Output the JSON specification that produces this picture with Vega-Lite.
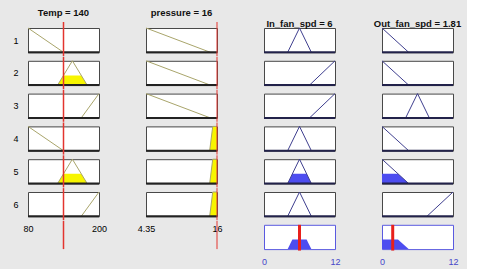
{
"$schema": "https://vega.github.io/schema/vega-lite/v6.json",
"background": "#e8e8e8",
"padding": {"left": 12, "top": 7, "right": 5, "bottom": 5},
"columns": 4,
"spacing": {"row": 7.8, "column": 47},
"bounds": "flush",
"config": {
  "view": {"fill": "white", "stroke": "#484848", "strokeWidth": 1},
  "font": "Liberation Sans",
  "title": {"fontSize": 9.5, "fontWeight": "bold", "color": "#111111", "anchor": "middle", "font": "Liberation Sans"}
},
"datasets": {
  "temp": [
    {"rule": 1, "part": "mf", "x": 80, "mu": 1}, {"rule": 1, "part": "mf", "x": 140, "mu": 0},
    {"rule": 2, "part": "mf", "x": 130, "mu": 0}, {"rule": 2, "part": "mf", "x": 155, "mu": 1}, {"rule": 2, "part": "mf", "x": 180, "mu": 0},
    {"rule": 2, "part": "fill", "x": 130, "mu": 0}, {"rule": 2, "part": "fill", "x": 140, "mu": 0.4}, {"rule": 2, "part": "fill", "x": 170, "mu": 0.4}, {"rule": 2, "part": "fill", "x": 180, "mu": 0},
    {"rule": 3, "part": "mf", "x": 170, "mu": 0}, {"rule": 3, "part": "mf", "x": 200, "mu": 1},
    {"rule": 4, "part": "mf", "x": 80, "mu": 1}, {"rule": 4, "part": "mf", "x": 140, "mu": 0},
    {"rule": 5, "part": "mf", "x": 130, "mu": 0}, {"rule": 5, "part": "mf", "x": 155, "mu": 1}, {"rule": 5, "part": "mf", "x": 180, "mu": 0},
    {"rule": 5, "part": "fill", "x": 130, "mu": 0}, {"rule": 5, "part": "fill", "x": 140, "mu": 0.4}, {"rule": 5, "part": "fill", "x": 170, "mu": 0.4}, {"rule": 5, "part": "fill", "x": 180, "mu": 0},
    {"rule": 6, "part": "mf", "x": 170, "mu": 0}, {"rule": 6, "part": "mf", "x": 200, "mu": 1},
    {"rule": 0, "part": "input", "x": 140, "mu": 0}
  ],
  "pressure": [
    {"rule": 1, "part": "mf", "x": 4.35, "mu": 1}, {"rule": 1, "part": "mf", "x": 14.9, "mu": 0},
    {"rule": 2, "part": "mf", "x": 4.35, "mu": 1}, {"rule": 2, "part": "mf", "x": 14.9, "mu": 0},
    {"rule": 3, "part": "mf", "x": 4.35, "mu": 1}, {"rule": 3, "part": "mf", "x": 14.9, "mu": 0},
    {"rule": 4, "part": "mf", "x": 14.8, "mu": 0}, {"rule": 4, "part": "mf", "x": 15.3, "mu": 1}, {"rule": 4, "part": "mf", "x": 16, "mu": 1},
    {"rule": 4, "part": "fill", "x": 14.8, "mu": 0}, {"rule": 4, "part": "fill", "x": 15.3, "mu": 1}, {"rule": 4, "part": "fill", "x": 16, "mu": 1},
    {"rule": 5, "part": "mf", "x": 14.8, "mu": 0}, {"rule": 5, "part": "mf", "x": 15.3, "mu": 1}, {"rule": 5, "part": "mf", "x": 16, "mu": 1},
    {"rule": 5, "part": "fill", "x": 14.8, "mu": 0}, {"rule": 5, "part": "fill", "x": 15.3, "mu": 1}, {"rule": 5, "part": "fill", "x": 16, "mu": 1},
    {"rule": 6, "part": "mf", "x": 14.8, "mu": 0}, {"rule": 6, "part": "mf", "x": 15.3, "mu": 1}, {"rule": 6, "part": "mf", "x": 16, "mu": 1},
    {"rule": 6, "part": "fill", "x": 14.8, "mu": 0}, {"rule": 6, "part": "fill", "x": 15.3, "mu": 1}, {"rule": 6, "part": "fill", "x": 16, "mu": 1},
    {"rule": 0, "part": "input", "x": 16, "mu": 0}
  ],
  "infan": [
    {"rule": 1, "part": "mf", "x": 4, "mu": 0}, {"rule": 1, "part": "mf", "x": 6, "mu": 1}, {"rule": 1, "part": "mf", "x": 8, "mu": 0},
    {"rule": 2, "part": "mf", "x": 7.7, "mu": 0}, {"rule": 2, "part": "mf", "x": 12, "mu": 1},
    {"rule": 3, "part": "mf", "x": 7.7, "mu": 0}, {"rule": 3, "part": "mf", "x": 12, "mu": 1},
    {"rule": 4, "part": "mf", "x": 4, "mu": 0}, {"rule": 4, "part": "mf", "x": 6, "mu": 1}, {"rule": 4, "part": "mf", "x": 8, "mu": 0},
    {"rule": 5, "part": "mf", "x": 4, "mu": 0}, {"rule": 5, "part": "mf", "x": 6, "mu": 1}, {"rule": 5, "part": "mf", "x": 8, "mu": 0},
    {"rule": 5, "part": "fill", "x": 4, "mu": 0}, {"rule": 5, "part": "fill", "x": 4.8, "mu": 0.4}, {"rule": 5, "part": "fill", "x": 7.2, "mu": 0.4}, {"rule": 5, "part": "fill", "x": 8, "mu": 0},
    {"rule": 6, "part": "mf", "x": 4, "mu": 0}, {"rule": 6, "part": "mf", "x": 6, "mu": 1}, {"rule": 6, "part": "mf", "x": 8, "mu": 0},
    {"rule": 7, "part": "fill", "x": 4, "mu": 0}, {"rule": 7, "part": "fill", "x": 4.8, "mu": 0.4}, {"rule": 7, "part": "fill", "x": 7.2, "mu": 0.4}, {"rule": 7, "part": "fill", "x": 8, "mu": 0},
    {"rule": 0, "part": "output", "x": 6, "mu": 0}
  ],
  "outfan": [
    {"rule": 1, "part": "mf", "x": 0, "mu": 1}, {"rule": 1, "part": "mf", "x": 4.5, "mu": 0},
    {"rule": 2, "part": "mf", "x": 0, "mu": 1}, {"rule": 2, "part": "mf", "x": 4.5, "mu": 0},
    {"rule": 3, "part": "mf", "x": 4, "mu": 0}, {"rule": 3, "part": "mf", "x": 6, "mu": 1}, {"rule": 3, "part": "mf", "x": 8, "mu": 0},
    {"rule": 4, "part": "mf", "x": 0, "mu": 1}, {"rule": 4, "part": "mf", "x": 4.5, "mu": 0},
    {"rule": 5, "part": "mf", "x": 0, "mu": 1}, {"rule": 5, "part": "mf", "x": 4.5, "mu": 0},
    {"rule": 5, "part": "fill", "x": 0, "mu": 0.4}, {"rule": 5, "part": "fill", "x": 2.7, "mu": 0.4}, {"rule": 5, "part": "fill", "x": 4.5, "mu": 0},
    {"rule": 6, "part": "mf", "x": 7.6, "mu": 0}, {"rule": 6, "part": "mf", "x": 12, "mu": 1},
    {"rule": 7, "part": "fill", "x": 0, "mu": 0.4}, {"rule": 7, "part": "fill", "x": 2.7, "mu": 0.4}, {"rule": 7, "part": "fill", "x": 4.5, "mu": 0},
    {"rule": 0, "part": "output", "x": 1.81, "mu": 0}
  ]
},
"concat": [
{"width": 71, "height": 24.3, "data": {"name": "temp"}, "title": {"text": "Temp = 140", "offset": 4},
 "resolve": {"axis": {"x": "independent", "y": "independent"}},
 "layer": [
  {"transform": [{"filter": "datum.rule == 1 && datum.part == 'mf'"}], "mark": {"type": "line", "color": "#a9a56b", "strokeWidth": 1},
   "encoding": {"x": {"field": "x", "type": "quantitative", "scale": {"domain": [80, 200], "nice": false, "zero": false}, "axis": null},
     "y": {"field": "mu", "type": "quantitative", "scale": {"domain": [0, 1]}, "axis": {"title": "1", "titleAngle": 0, "titleAlign": "right", "titleBaseline": "middle", "titlePadding": 10, "titleFontSize": 9, "titleFontWeight": "normal", "titleColor": "#000000", "labels": false, "ticks": false, "domain": false, "grid": false}}}},
  {"transform": [{"filter": "datum.part == 'input'"}], "mark": {"type": "rule", "color": "#222222", "strokeWidth": 2},
   "encoding": {"y": {"datum": 0, "type": "quantitative", "scale": {"domain": [0, 1]}, "axis": null}}},
  {"transform": [{"filter": "datum.part == 'input'"}], "mark": {"type": "rule", "color": "#e3342f", "strokeWidth": 1.5},
   "encoding": {"x": {"field": "x", "type": "quantitative", "scale": {"domain": [80, 200], "nice": false, "zero": false}, "axis": null},
     "y": {"datum": 1.247, "type": "quantitative", "scale": {"domain": [0, 1]}, "axis": null}, "y2": {"datum": -0.16}}}
 ]},
{"width": 71, "height": 24.3, "data": {"name": "pressure"}, "title": {"text": "pressure = 16", "offset": 4},
 "layer": [
  {"transform": [{"filter": "datum.rule == 1 && datum.part == 'mf'"}], "mark": {"type": "line", "color": "#a9a56b", "strokeWidth": 1},
   "encoding": {"x": {"field": "x", "type": "quantitative", "scale": {"domain": [4.35, 16], "nice": false, "zero": false}, "axis": null},
     "y": {"field": "mu", "type": "quantitative", "scale": {"domain": [0, 1]}, "axis": null}}},
  {"transform": [{"filter": "datum.part == 'input'"}], "mark": {"type": "rule", "color": "#222222", "strokeWidth": 2},
   "encoding": {"y": {"datum": 0, "type": "quantitative", "scale": {"domain": [0, 1]}, "axis": null}}},
  {"transform": [{"filter": "datum.part == 'input'"}], "mark": {"type": "rule", "color": "#e3342f", "strokeWidth": 1},
   "encoding": {"x": {"field": "x", "type": "quantitative", "scale": {"domain": [4.35, 16], "nice": false, "zero": false}, "axis": null},
     "y": {"datum": 1.247, "type": "quantitative", "scale": {"domain": [0, 1]}, "axis": null}, "y2": {"datum": -0.16}}}
 ]},
{"width": 71, "height": 24.3, "data": {"name": "infan"}, "title": {"text": "In_fan_spd = 6", "offset": -2},
 "layer": [
  {"transform": [{"filter": "datum.rule == 1 && datum.part == 'mf'"}], "mark": {"type": "line", "color": "#3f3f8f", "strokeWidth": 1},
   "encoding": {"x": {"field": "x", "type": "quantitative", "scale": {"domain": [0, 12], "nice": false, "zero": false}, "axis": null},
     "y": {"field": "mu", "type": "quantitative", "scale": {"domain": [0, 1]}, "axis": null}}},
  {"transform": [{"filter": "datum.part == 'output'"}], "mark": {"type": "rule", "color": "#22224a", "strokeWidth": 2},
   "encoding": {"y": {"datum": 0, "type": "quantitative", "scale": {"domain": [0, 1]}, "axis": null}}}
 ]},
{"width": 71, "height": 24.3, "data": {"name": "outfan"}, "title": {"text": "Out_fan_spd = 1.81", "offset": -2},
 "layer": [
  {"transform": [{"filter": "datum.rule == 1 && datum.part == 'mf'"}], "mark": {"type": "line", "color": "#3f3f8f", "strokeWidth": 1},
   "encoding": {"x": {"field": "x", "type": "quantitative", "scale": {"domain": [0, 12], "nice": false, "zero": false}, "axis": null},
     "y": {"field": "mu", "type": "quantitative", "scale": {"domain": [0, 1]}, "axis": null}}},
  {"transform": [{"filter": "datum.part == 'output'"}], "mark": {"type": "rule", "color": "#22224a", "strokeWidth": 2},
   "encoding": {"y": {"datum": 0, "type": "quantitative", "scale": {"domain": [0, 1]}, "axis": null}}}
 ]},

{"width": 71, "height": 24.3, "data": {"name": "temp"},
 "resolve": {"axis": {"x": "independent", "y": "independent"}},
 "layer": [
  {"transform": [{"filter": "datum.rule == 2 && datum.part == 'fill'"}], "mark": {"type": "area", "color": "#f7f500", "opacity": 1},
   "encoding": {"x": {"field": "x", "type": "quantitative", "scale": {"domain": [80, 200], "nice": false, "zero": false}, "axis": null},
     "y": {"field": "mu", "type": "quantitative", "scale": {"domain": [0, 1]}, "axis": null}}},
  {"transform": [{"filter": "datum.rule == 2 && datum.part == 'mf'"}], "mark": {"type": "line", "color": "#a9a56b", "strokeWidth": 1},
   "encoding": {"x": {"field": "x", "type": "quantitative", "scale": {"domain": [80, 200], "nice": false, "zero": false}, "axis": null},
     "y": {"field": "mu", "type": "quantitative", "scale": {"domain": [0, 1]}, "axis": {"title": "2", "titleAngle": 0, "titleAlign": "right", "titleBaseline": "middle", "titlePadding": 10, "titleFontSize": 9, "titleFontWeight": "normal", "titleColor": "#000000", "labels": false, "ticks": false, "domain": false, "grid": false}}}},
  {"transform": [{"filter": "datum.part == 'input'"}], "mark": {"type": "rule", "color": "#222222", "strokeWidth": 2},
   "encoding": {"y": {"datum": 0, "type": "quantitative", "scale": {"domain": [0, 1]}, "axis": null}}},
  {"transform": [{"filter": "datum.part == 'input'"}], "mark": {"type": "rule", "color": "#e3342f", "strokeWidth": 1.5},
   "encoding": {"x": {"field": "x", "type": "quantitative", "scale": {"domain": [80, 200], "nice": false, "zero": false}, "axis": null},
     "y": {"datum": 1.16, "type": "quantitative", "scale": {"domain": [0, 1]}, "axis": null}, "y2": {"datum": -0.16}}}
 ]},
{"width": 71, "height": 24.3, "data": {"name": "pressure"},
 "layer": [
  {"transform": [{"filter": "datum.rule == 2 && datum.part == 'mf'"}], "mark": {"type": "line", "color": "#a9a56b", "strokeWidth": 1},
   "encoding": {"x": {"field": "x", "type": "quantitative", "scale": {"domain": [4.35, 16], "nice": false, "zero": false}, "axis": null},
     "y": {"field": "mu", "type": "quantitative", "scale": {"domain": [0, 1]}, "axis": null}}},
  {"transform": [{"filter": "datum.part == 'input'"}], "mark": {"type": "rule", "color": "#222222", "strokeWidth": 2},
   "encoding": {"y": {"datum": 0, "type": "quantitative", "scale": {"domain": [0, 1]}, "axis": null}}},
  {"transform": [{"filter": "datum.part == 'input'"}], "mark": {"type": "rule", "color": "#e3342f", "strokeWidth": 1},
   "encoding": {"x": {"field": "x", "type": "quantitative", "scale": {"domain": [4.35, 16], "nice": false, "zero": false}, "axis": null},
     "y": {"datum": 1.16, "type": "quantitative", "scale": {"domain": [0, 1]}, "axis": null}, "y2": {"datum": -0.16}}}
 ]},
{"width": 71, "height": 24.3, "data": {"name": "infan"},
 "layer": [
  {"transform": [{"filter": "datum.rule == 2 && datum.part == 'mf'"}], "mark": {"type": "line", "color": "#3f3f8f", "strokeWidth": 1},
   "encoding": {"x": {"field": "x", "type": "quantitative", "scale": {"domain": [0, 12], "nice": false, "zero": false}, "axis": null},
     "y": {"field": "mu", "type": "quantitative", "scale": {"domain": [0, 1]}, "axis": null}}},
  {"transform": [{"filter": "datum.part == 'output'"}], "mark": {"type": "rule", "color": "#22224a", "strokeWidth": 2},
   "encoding": {"y": {"datum": 0, "type": "quantitative", "scale": {"domain": [0, 1]}, "axis": null}}}
 ]},
{"width": 71, "height": 24.3, "data": {"name": "outfan"},
 "layer": [
  {"transform": [{"filter": "datum.rule == 2 && datum.part == 'mf'"}], "mark": {"type": "line", "color": "#3f3f8f", "strokeWidth": 1},
   "encoding": {"x": {"field": "x", "type": "quantitative", "scale": {"domain": [0, 12], "nice": false, "zero": false}, "axis": null},
     "y": {"field": "mu", "type": "quantitative", "scale": {"domain": [0, 1]}, "axis": null}}},
  {"transform": [{"filter": "datum.part == 'output'"}], "mark": {"type": "rule", "color": "#22224a", "strokeWidth": 2},
   "encoding": {"y": {"datum": 0, "type": "quantitative", "scale": {"domain": [0, 1]}, "axis": null}}}
 ]},

{"width": 71, "height": 24.3, "data": {"name": "temp"},
 "resolve": {"axis": {"x": "independent", "y": "independent"}},
 "layer": [
  {"transform": [{"filter": "datum.rule == 3 && datum.part == 'mf'"}], "mark": {"type": "line", "color": "#a9a56b", "strokeWidth": 1},
   "encoding": {"x": {"field": "x", "type": "quantitative", "scale": {"domain": [80, 200], "nice": false, "zero": false}, "axis": null},
     "y": {"field": "mu", "type": "quantitative", "scale": {"domain": [0, 1]}, "axis": {"title": "3", "titleAngle": 0, "titleAlign": "right", "titleBaseline": "middle", "titlePadding": 10, "titleFontSize": 9, "titleFontWeight": "normal", "titleColor": "#000000", "labels": false, "ticks": false, "domain": false, "grid": false}}}},
  {"transform": [{"filter": "datum.part == 'input'"}], "mark": {"type": "rule", "color": "#222222", "strokeWidth": 2},
   "encoding": {"y": {"datum": 0, "type": "quantitative", "scale": {"domain": [0, 1]}, "axis": null}}},
  {"transform": [{"filter": "datum.part == 'input'"}], "mark": {"type": "rule", "color": "#e3342f", "strokeWidth": 1.5},
   "encoding": {"x": {"field": "x", "type": "quantitative", "scale": {"domain": [80, 200], "nice": false, "zero": false}, "axis": null},
     "y": {"datum": 1.16, "type": "quantitative", "scale": {"domain": [0, 1]}, "axis": null}, "y2": {"datum": -0.16}}}
 ]},
{"width": 71, "height": 24.3, "data": {"name": "pressure"},
 "layer": [
  {"transform": [{"filter": "datum.rule == 3 && datum.part == 'mf'"}], "mark": {"type": "line", "color": "#a9a56b", "strokeWidth": 1},
   "encoding": {"x": {"field": "x", "type": "quantitative", "scale": {"domain": [4.35, 16], "nice": false, "zero": false}, "axis": null},
     "y": {"field": "mu", "type": "quantitative", "scale": {"domain": [0, 1]}, "axis": null}}},
  {"transform": [{"filter": "datum.part == 'input'"}], "mark": {"type": "rule", "color": "#222222", "strokeWidth": 2},
   "encoding": {"y": {"datum": 0, "type": "quantitative", "scale": {"domain": [0, 1]}, "axis": null}}},
  {"transform": [{"filter": "datum.part == 'input'"}], "mark": {"type": "rule", "color": "#e3342f", "strokeWidth": 1},
   "encoding": {"x": {"field": "x", "type": "quantitative", "scale": {"domain": [4.35, 16], "nice": false, "zero": false}, "axis": null},
     "y": {"datum": 1.16, "type": "quantitative", "scale": {"domain": [0, 1]}, "axis": null}, "y2": {"datum": -0.16}}}
 ]},
{"width": 71, "height": 24.3, "data": {"name": "infan"},
 "layer": [
  {"transform": [{"filter": "datum.rule == 3 && datum.part == 'mf'"}], "mark": {"type": "line", "color": "#3f3f8f", "strokeWidth": 1},
   "encoding": {"x": {"field": "x", "type": "quantitative", "scale": {"domain": [0, 12], "nice": false, "zero": false}, "axis": null},
     "y": {"field": "mu", "type": "quantitative", "scale": {"domain": [0, 1]}, "axis": null}}},
  {"transform": [{"filter": "datum.part == 'output'"}], "mark": {"type": "rule", "color": "#22224a", "strokeWidth": 2},
   "encoding": {"y": {"datum": 0, "type": "quantitative", "scale": {"domain": [0, 1]}, "axis": null}}}
 ]},
{"width": 71, "height": 24.3, "data": {"name": "outfan"},
 "layer": [
  {"transform": [{"filter": "datum.rule == 3 && datum.part == 'mf'"}], "mark": {"type": "line", "color": "#3f3f8f", "strokeWidth": 1},
   "encoding": {"x": {"field": "x", "type": "quantitative", "scale": {"domain": [0, 12], "nice": false, "zero": false}, "axis": null},
     "y": {"field": "mu", "type": "quantitative", "scale": {"domain": [0, 1]}, "axis": null}}},
  {"transform": [{"filter": "datum.part == 'output'"}], "mark": {"type": "rule", "color": "#22224a", "strokeWidth": 2},
   "encoding": {"y": {"datum": 0, "type": "quantitative", "scale": {"domain": [0, 1]}, "axis": null}}}
 ]},

{"width": 71, "height": 24.3, "data": {"name": "temp"},
 "resolve": {"axis": {"x": "independent", "y": "independent"}},
 "layer": [
  {"transform": [{"filter": "datum.rule == 4 && datum.part == 'mf'"}], "mark": {"type": "line", "color": "#a9a56b", "strokeWidth": 1},
   "encoding": {"x": {"field": "x", "type": "quantitative", "scale": {"domain": [80, 200], "nice": false, "zero": false}, "axis": null},
     "y": {"field": "mu", "type": "quantitative", "scale": {"domain": [0, 1]}, "axis": {"title": "4", "titleAngle": 0, "titleAlign": "right", "titleBaseline": "middle", "titlePadding": 10, "titleFontSize": 9, "titleFontWeight": "normal", "titleColor": "#000000", "labels": false, "ticks": false, "domain": false, "grid": false}}}},
  {"transform": [{"filter": "datum.part == 'input'"}], "mark": {"type": "rule", "color": "#222222", "strokeWidth": 2},
   "encoding": {"y": {"datum": 0, "type": "quantitative", "scale": {"domain": [0, 1]}, "axis": null}}},
  {"transform": [{"filter": "datum.part == 'input'"}], "mark": {"type": "rule", "color": "#e3342f", "strokeWidth": 1.5},
   "encoding": {"x": {"field": "x", "type": "quantitative", "scale": {"domain": [80, 200], "nice": false, "zero": false}, "axis": null},
     "y": {"datum": 1.16, "type": "quantitative", "scale": {"domain": [0, 1]}, "axis": null}, "y2": {"datum": -0.16}}}
 ]},
{"width": 71, "height": 24.3, "data": {"name": "pressure"},
 "layer": [
  {"transform": [{"filter": "datum.rule == 4 && datum.part == 'fill'"}], "mark": {"type": "area", "color": "#f7f500", "opacity": 1},
   "encoding": {"x": {"field": "x", "type": "quantitative", "scale": {"domain": [4.35, 16], "nice": false, "zero": false}, "axis": null},
     "y": {"field": "mu", "type": "quantitative", "scale": {"domain": [0, 1]}, "axis": null}}},
  {"transform": [{"filter": "datum.rule == 4 && datum.part == 'mf'"}], "mark": {"type": "line", "color": "#a9a56b", "strokeWidth": 1},
   "encoding": {"x": {"field": "x", "type": "quantitative", "scale": {"domain": [4.35, 16], "nice": false, "zero": false}, "axis": null},
     "y": {"field": "mu", "type": "quantitative", "scale": {"domain": [0, 1]}, "axis": null}}},
  {"transform": [{"filter": "datum.part == 'input'"}], "mark": {"type": "rule", "color": "#222222", "strokeWidth": 2},
   "encoding": {"y": {"datum": 0, "type": "quantitative", "scale": {"domain": [0, 1]}, "axis": null}}},
  {"transform": [{"filter": "datum.part == 'input'"}], "mark": {"type": "rule", "color": "#e3342f", "strokeWidth": 1},
   "encoding": {"x": {"field": "x", "type": "quantitative", "scale": {"domain": [4.35, 16], "nice": false, "zero": false}, "axis": null},
     "y": {"datum": 1.16, "type": "quantitative", "scale": {"domain": [0, 1]}, "axis": null}, "y2": {"datum": -0.16}}}
 ]},
{"width": 71, "height": 24.3, "data": {"name": "infan"},
 "layer": [
  {"transform": [{"filter": "datum.rule == 4 && datum.part == 'mf'"}], "mark": {"type": "line", "color": "#3f3f8f", "strokeWidth": 1},
   "encoding": {"x": {"field": "x", "type": "quantitative", "scale": {"domain": [0, 12], "nice": false, "zero": false}, "axis": null},
     "y": {"field": "mu", "type": "quantitative", "scale": {"domain": [0, 1]}, "axis": null}}},
  {"transform": [{"filter": "datum.part == 'output'"}], "mark": {"type": "rule", "color": "#22224a", "strokeWidth": 2},
   "encoding": {"y": {"datum": 0, "type": "quantitative", "scale": {"domain": [0, 1]}, "axis": null}}}
 ]},
{"width": 71, "height": 24.3, "data": {"name": "outfan"},
 "layer": [
  {"transform": [{"filter": "datum.rule == 4 && datum.part == 'mf'"}], "mark": {"type": "line", "color": "#3f3f8f", "strokeWidth": 1},
   "encoding": {"x": {"field": "x", "type": "quantitative", "scale": {"domain": [0, 12], "nice": false, "zero": false}, "axis": null},
     "y": {"field": "mu", "type": "quantitative", "scale": {"domain": [0, 1]}, "axis": null}}},
  {"transform": [{"filter": "datum.part == 'output'"}], "mark": {"type": "rule", "color": "#22224a", "strokeWidth": 2},
   "encoding": {"y": {"datum": 0, "type": "quantitative", "scale": {"domain": [0, 1]}, "axis": null}}}
 ]},

{"width": 71, "height": 24.3, "data": {"name": "temp"},
 "resolve": {"axis": {"x": "independent", "y": "independent"}},
 "layer": [
  {"transform": [{"filter": "datum.rule == 5 && datum.part == 'fill'"}], "mark": {"type": "area", "color": "#f7f500", "opacity": 1},
   "encoding": {"x": {"field": "x", "type": "quantitative", "scale": {"domain": [80, 200], "nice": false, "zero": false}, "axis": null},
     "y": {"field": "mu", "type": "quantitative", "scale": {"domain": [0, 1]}, "axis": null}}},
  {"transform": [{"filter": "datum.rule == 5 && datum.part == 'mf'"}], "mark": {"type": "line", "color": "#a9a56b", "strokeWidth": 1},
   "encoding": {"x": {"field": "x", "type": "quantitative", "scale": {"domain": [80, 200], "nice": false, "zero": false}, "axis": null},
     "y": {"field": "mu", "type": "quantitative", "scale": {"domain": [0, 1]}, "axis": {"title": "5", "titleAngle": 0, "titleAlign": "right", "titleBaseline": "middle", "titlePadding": 10, "titleFontSize": 9, "titleFontWeight": "normal", "titleColor": "#000000", "labels": false, "ticks": false, "domain": false, "grid": false}}}},
  {"transform": [{"filter": "datum.part == 'input'"}], "mark": {"type": "rule", "color": "#222222", "strokeWidth": 2},
   "encoding": {"y": {"datum": 0, "type": "quantitative", "scale": {"domain": [0, 1]}, "axis": null}}},
  {"transform": [{"filter": "datum.part == 'input'"}], "mark": {"type": "rule", "color": "#e3342f", "strokeWidth": 1.5},
   "encoding": {"x": {"field": "x", "type": "quantitative", "scale": {"domain": [80, 200], "nice": false, "zero": false}, "axis": null},
     "y": {"datum": 1.16, "type": "quantitative", "scale": {"domain": [0, 1]}, "axis": null}, "y2": {"datum": -0.16}}}
 ]},
{"width": 71, "height": 24.3, "data": {"name": "pressure"},
 "layer": [
  {"transform": [{"filter": "datum.rule == 5 && datum.part == 'fill'"}], "mark": {"type": "area", "color": "#f7f500", "opacity": 1},
   "encoding": {"x": {"field": "x", "type": "quantitative", "scale": {"domain": [4.35, 16], "nice": false, "zero": false}, "axis": null},
     "y": {"field": "mu", "type": "quantitative", "scale": {"domain": [0, 1]}, "axis": null}}},
  {"transform": [{"filter": "datum.rule == 5 && datum.part == 'mf'"}], "mark": {"type": "line", "color": "#a9a56b", "strokeWidth": 1},
   "encoding": {"x": {"field": "x", "type": "quantitative", "scale": {"domain": [4.35, 16], "nice": false, "zero": false}, "axis": null},
     "y": {"field": "mu", "type": "quantitative", "scale": {"domain": [0, 1]}, "axis": null}}},
  {"transform": [{"filter": "datum.part == 'input'"}], "mark": {"type": "rule", "color": "#222222", "strokeWidth": 2},
   "encoding": {"y": {"datum": 0, "type": "quantitative", "scale": {"domain": [0, 1]}, "axis": null}}},
  {"transform": [{"filter": "datum.part == 'input'"}], "mark": {"type": "rule", "color": "#e3342f", "strokeWidth": 1},
   "encoding": {"x": {"field": "x", "type": "quantitative", "scale": {"domain": [4.35, 16], "nice": false, "zero": false}, "axis": null},
     "y": {"datum": 1.16, "type": "quantitative", "scale": {"domain": [0, 1]}, "axis": null}, "y2": {"datum": -0.16}}}
 ]},
{"width": 71, "height": 24.3, "data": {"name": "infan"},
 "layer": [
  {"transform": [{"filter": "datum.rule == 5 && datum.part == 'fill'"}], "mark": {"type": "area", "color": "#4d4df0", "opacity": 1},
   "encoding": {"x": {"field": "x", "type": "quantitative", "scale": {"domain": [0, 12], "nice": false, "zero": false}, "axis": null},
     "y": {"field": "mu", "type": "quantitative", "scale": {"domain": [0, 1]}, "axis": null}}},
  {"transform": [{"filter": "datum.rule == 5 && datum.part == 'mf'"}], "mark": {"type": "line", "color": "#3f3f8f", "strokeWidth": 1},
   "encoding": {"x": {"field": "x", "type": "quantitative", "scale": {"domain": [0, 12], "nice": false, "zero": false}, "axis": null},
     "y": {"field": "mu", "type": "quantitative", "scale": {"domain": [0, 1]}, "axis": null}}},
  {"transform": [{"filter": "datum.part == 'output'"}], "mark": {"type": "rule", "color": "#22224a", "strokeWidth": 2},
   "encoding": {"y": {"datum": 0, "type": "quantitative", "scale": {"domain": [0, 1]}, "axis": null}}}
 ]},
{"width": 71, "height": 24.3, "data": {"name": "outfan"},
 "layer": [
  {"transform": [{"filter": "datum.rule == 5 && datum.part == 'fill'"}], "mark": {"type": "area", "color": "#4d4df0", "opacity": 1},
   "encoding": {"x": {"field": "x", "type": "quantitative", "scale": {"domain": [0, 12], "nice": false, "zero": false}, "axis": null},
     "y": {"field": "mu", "type": "quantitative", "scale": {"domain": [0, 1]}, "axis": null}}},
  {"transform": [{"filter": "datum.rule == 5 && datum.part == 'mf'"}], "mark": {"type": "line", "color": "#3f3f8f", "strokeWidth": 1},
   "encoding": {"x": {"field": "x", "type": "quantitative", "scale": {"domain": [0, 12], "nice": false, "zero": false}, "axis": null},
     "y": {"field": "mu", "type": "quantitative", "scale": {"domain": [0, 1]}, "axis": null}}},
  {"transform": [{"filter": "datum.part == 'output'"}], "mark": {"type": "rule", "color": "#22224a", "strokeWidth": 2},
   "encoding": {"y": {"datum": 0, "type": "quantitative", "scale": {"domain": [0, 1]}, "axis": null}}}
 ]},

{"width": 71, "height": 24.3, "data": {"name": "temp"},
 "resolve": {"axis": {"x": "independent", "y": "independent"}},
 "layer": [
  {"transform": [{"filter": "datum.rule == 6 && datum.part == 'mf'"}], "mark": {"type": "line", "color": "#a9a56b", "strokeWidth": 1},
   "encoding": {"x": {"field": "x", "type": "quantitative", "scale": {"domain": [80, 200], "nice": false, "zero": false}, "axis": {"values": [80, 200], "format": ".2~f", "labelFlush": false, "labelPadding": 8, "labelFontSize": 9, "labelColor": "#000000", "ticks": false, "domain": false, "grid": false, "title": null}},
     "y": {"field": "mu", "type": "quantitative", "scale": {"domain": [0, 1]}, "axis": {"title": "6", "titleAngle": 0, "titleAlign": "right", "titleBaseline": "middle", "titlePadding": 10, "titleFontSize": 9, "titleFontWeight": "normal", "titleColor": "#000000", "labels": false, "ticks": false, "domain": false, "grid": false}}}},
  {"transform": [{"filter": "datum.part == 'input'"}], "mark": {"type": "rule", "color": "#222222", "strokeWidth": 2},
   "encoding": {"y": {"datum": 0, "type": "quantitative", "scale": {"domain": [0, 1]}, "axis": null}}},
  {"transform": [{"filter": "datum.part == 'input'"}], "mark": {"type": "rule", "color": "#e3342f", "strokeWidth": 1.5},
   "encoding": {"x": {"field": "x", "type": "quantitative", "scale": {"domain": [80, 200], "nice": false, "zero": false}, "axis": null},
     "y": {"datum": 1.16, "type": "quantitative", "scale": {"domain": [0, 1]}, "axis": null}, "y2": {"datum": -0.16}}}
 ]},
{"width": 71, "height": 24.3, "data": {"name": "pressure"},
 "resolve": {"axis": {"x": "independent", "y": "independent"}},
 "layer": [
  {"transform": [{"filter": "datum.rule == 6 && datum.part == 'fill'"}], "mark": {"type": "area", "color": "#f7f500", "opacity": 1},
   "encoding": {"x": {"field": "x", "type": "quantitative", "scale": {"domain": [4.35, 16], "nice": false, "zero": false}, "axis": null},
     "y": {"field": "mu", "type": "quantitative", "scale": {"domain": [0, 1]}, "axis": null}}},
  {"transform": [{"filter": "datum.rule == 6 && datum.part == 'mf'"}], "mark": {"type": "line", "color": "#a9a56b", "strokeWidth": 1},
   "encoding": {"x": {"field": "x", "type": "quantitative", "scale": {"domain": [4.35, 16], "nice": false, "zero": false}, "axis": {"values": [4.35, 16], "format": ".2~f", "labelFlush": false, "labelPadding": 8, "labelFontSize": 9, "labelColor": "#000000", "ticks": false, "domain": false, "grid": false, "title": null}},
     "y": {"field": "mu", "type": "quantitative", "scale": {"domain": [0, 1]}, "axis": null}}},
  {"transform": [{"filter": "datum.part == 'input'"}], "mark": {"type": "rule", "color": "#222222", "strokeWidth": 2},
   "encoding": {"y": {"datum": 0, "type": "quantitative", "scale": {"domain": [0, 1]}, "axis": null}}},
  {"transform": [{"filter": "datum.part == 'input'"}], "mark": {"type": "rule", "color": "#e3342f", "strokeWidth": 1},
   "encoding": {"x": {"field": "x", "type": "quantitative", "scale": {"domain": [4.35, 16], "nice": false, "zero": false}, "axis": null},
     "y": {"datum": 1.16, "type": "quantitative", "scale": {"domain": [0, 1]}, "axis": null}, "y2": {"datum": -0.16}}}
 ]},
{"width": 71, "height": 24.3, "data": {"name": "infan"},
 "layer": [
  {"transform": [{"filter": "datum.rule == 6 && datum.part == 'mf'"}], "mark": {"type": "line", "color": "#3f3f8f", "strokeWidth": 1},
   "encoding": {"x": {"field": "x", "type": "quantitative", "scale": {"domain": [0, 12], "nice": false, "zero": false}, "axis": null},
     "y": {"field": "mu", "type": "quantitative", "scale": {"domain": [0, 1]}, "axis": null}}},
  {"transform": [{"filter": "datum.part == 'output'"}], "mark": {"type": "rule", "color": "#22224a", "strokeWidth": 2},
   "encoding": {"y": {"datum": 0, "type": "quantitative", "scale": {"domain": [0, 1]}, "axis": null}}}
 ]},
{"width": 71, "height": 24.3, "data": {"name": "outfan"},
 "layer": [
  {"transform": [{"filter": "datum.rule == 6 && datum.part == 'mf'"}], "mark": {"type": "line", "color": "#3f3f8f", "strokeWidth": 1},
   "encoding": {"x": {"field": "x", "type": "quantitative", "scale": {"domain": [0, 12], "nice": false, "zero": false}, "axis": null},
     "y": {"field": "mu", "type": "quantitative", "scale": {"domain": [0, 1]}, "axis": null}}},
  {"transform": [{"filter": "datum.part == 'output'"}], "mark": {"type": "rule", "color": "#22224a", "strokeWidth": 2},
   "encoding": {"y": {"datum": 0, "type": "quantitative", "scale": {"domain": [0, 1]}, "axis": null}}}
 ]},

{"width": 71, "height": 24.3, "data": {"name": "temp"}, "view": {"fill": "transparent", "stroke": "transparent"},
 "transform": [{"filter": "datum.part == 'input'"}],
 "mark": {"type": "rule", "color": "#e3342f", "strokeWidth": 1.5},
 "encoding": {"x": {"field": "x", "type": "quantitative", "scale": {"domain": [80, 200], "nice": false, "zero": false}, "axis": null},
   "y": {"datum": 1.16, "type": "quantitative", "scale": {"domain": [0, 1]}, "axis": null}, "y2": {"datum": 0}}},
{"width": 71, "height": 24.3, "data": {"name": "pressure"}, "view": {"fill": "transparent", "stroke": "transparent"},
 "transform": [{"filter": "datum.part == 'input'"}],
 "mark": {"type": "rule", "color": "#e3342f", "strokeWidth": 1},
 "encoding": {"x": {"field": "x", "type": "quantitative", "scale": {"domain": [4.35, 16], "nice": false, "zero": false}, "axis": null},
   "y": {"datum": 1.16, "type": "quantitative", "scale": {"domain": [0, 1]}, "axis": null}, "y2": {"datum": 0}}},
{"width": 71, "height": 24.3, "data": {"name": "infan"}, "view": {"fill": "white", "stroke": "#5a5ae0"},
 "resolve": {"axis": {"x": "independent", "y": "independent"}},
 "layer": [
  {"transform": [{"filter": "datum.rule == 7 && datum.part == 'fill'"}], "mark": {"type": "area", "color": "#4d4df0", "opacity": 1},
   "encoding": {"x": {"field": "x", "type": "quantitative", "scale": {"domain": [0, 12], "nice": false, "zero": false}, "axis": {"values": [0, 12], "format": ".2~f", "labelFlush": false, "labelPadding": 8, "labelFontSize": 9, "labelColor": "#4646c8", "ticks": false, "domain": false, "grid": false, "title": null}},
     "y": {"field": "mu", "type": "quantitative", "scale": {"domain": [0, 1]}, "axis": null}}},
  {"transform": [{"filter": "datum.part == 'output'"}], "mark": {"type": "rule", "color": "#e8201c", "strokeWidth": 3},
   "encoding": {"x": {"field": "x", "type": "quantitative", "scale": {"domain": [0, 12], "nice": false, "zero": false}, "axis": null},
     "y": {"datum": 1, "type": "quantitative", "scale": {"domain": [0, 1]}, "axis": null}, "y2": {"datum": -0.06}}}
 ]},
{"width": 71, "height": 24.3, "data": {"name": "outfan"}, "view": {"fill": "white", "stroke": "#5a5ae0"},
 "resolve": {"axis": {"x": "independent", "y": "independent"}},
 "layer": [
  {"transform": [{"filter": "datum.rule == 7 && datum.part == 'fill'"}], "mark": {"type": "area", "color": "#4d4df0", "opacity": 1},
   "encoding": {"x": {"field": "x", "type": "quantitative", "scale": {"domain": [0, 12], "nice": false, "zero": false}, "axis": {"values": [0, 12], "format": ".2~f", "labelFlush": false, "labelPadding": 8, "labelFontSize": 9, "labelColor": "#4646c8", "ticks": false, "domain": false, "grid": false, "title": null}},
     "y": {"field": "mu", "type": "quantitative", "scale": {"domain": [0, 1]}, "axis": null}}},
  {"transform": [{"filter": "datum.part == 'output'"}], "mark": {"type": "rule", "color": "#e8201c", "strokeWidth": 3},
   "encoding": {"x": {"field": "x", "type": "quantitative", "scale": {"domain": [0, 12], "nice": false, "zero": false}, "axis": null},
     "y": {"datum": 1, "type": "quantitative", "scale": {"domain": [0, 1]}, "axis": null}, "y2": {"datum": -0.06}}}
 ]}
]
}
